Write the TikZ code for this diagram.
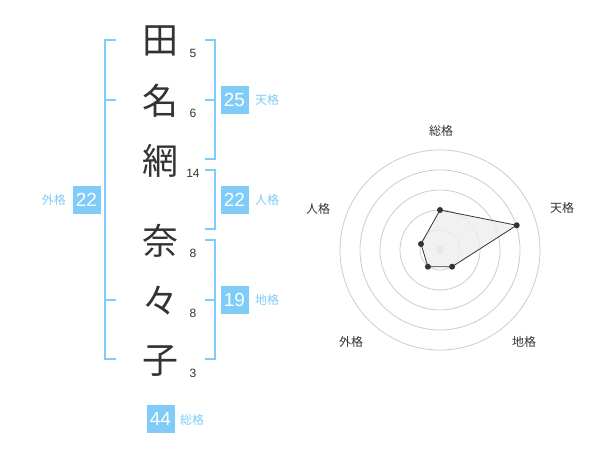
\documentclass[tikz,border=0pt]{standalone}
\usepackage{fontspec}
\setmainfont{Liberation Sans}
\newfontfamily\cjk{Noto Sans CJK JP}
\definecolor{kblue}{HTML}{80CCF8}
\definecolor{kdark}{HTML}{333333}
\definecolor{kgrid}{HTML}{CCCCCC}
\definecolor{kfill}{HTML}{EEEEEE}
\begin{document}
\begin{tikzpicture}[x=1pt,y=-1pt,
  kanji/.style={font=\cjk\fontsize{36}{36}\selectfont, text=kdark, inner sep=0pt},
  strokenum/.style={font=\fontsize{12}{12}\selectfont, text=kdark, inner sep=0pt},
  valbox/.style={fill=kblue, text=white, minimum width=28pt, minimum height=28pt, inner sep=0pt, font=\fontsize{19}{19}\selectfont},
  kaku/.style={text=kblue, font=\cjk\fontsize{12}{12}\selectfont, inner sep=0pt},
  brk/.style={draw=kblue, line width=2pt},
  rlab/.style={text=kdark, font=\cjk\fontsize{12}{12}\selectfont, inner sep=0pt},
  ring/.style={draw=kgrid, line width=0.8pt},
  dot/.style={circle, fill=kdark, inner sep=0pt, minimum size=6pt}
]
\useasboundingbox (0,0) rectangle (600,470);
% name characters
\node[kanji] (c1) at (160,41) {田};
\node[kanji] (c2) at (160,101) {名};
\node[kanji] (c3) at (160,161) {網};
\node[kanji] (c4) at (160,241) {奈};
\node[kanji] (c5) at (160,301) {々};
\node[kanji] (c6) at (160,361) {子};
% stroke counts
\node[strokenum] (s1) at (193,53) {5};
\node[strokenum] (s2) at (193,113) {6};
\node[strokenum] (s3) at (193,173) {14};
\node[strokenum] (s4) at (193,253) {8};
\node[strokenum] (s5) at (193,313) {8};
\node[strokenum] (s6) at (193,373) {3};
% brackets
\draw[brk] (116,40) -| (105,359) -- (116,359);
\draw[brk] (105,100) -- (116,100);
\draw[brk] (105,300) -- (116,300);
\draw[brk] (205,40) -| (215,159) -- (205,159);
\draw[brk] (205,100) -- (215,100);
\draw[brk] (205,170) -| (215,229) -- (205,229);
\draw[brk] (205,240) -| (215,359) -- (205,359);
\draw[brk] (205,300) -- (215,300);
% values
\node[valbox] (ten) at (234.5,100) {25};
\node[kaku, anchor=west] (tenl) at (255,100) {天格};
\node[valbox] (jin) at (234.5,200) {22};
\node[kaku, anchor=west] (jinl) at (255,200) {人格};
\node[valbox] (chi) at (234.5,300) {19};
\node[kaku, anchor=west] (chil) at (255,300) {地格};
\node[valbox] (gai) at (86.5,200) {22};
\node[kaku, anchor=east] (gail) at (66,200) {外格};
\node[valbox] (sou) at (160.5,419) {44};
\node[kaku, anchor=west] (soul) at (180,420) {総格};
% radar
\coordinate (rc) at (440,250);
\foreach \r in {20,40,60,80,100} \draw[ring] (rc) circle[radius=\r pt];
\node[circle, fill=kgrid, inner sep=0pt, minimum size=8pt] (cdot) at (rc) {};
\coordinate (p1) at (440,210);
\coordinate (p2) at (516.7,225.3);
\coordinate (p3) at (452.1,266.7);
\coordinate (p4) at (427.9,266.7);
\coordinate (p5) at (421,244);
\fill[kfill, opacity=0.8] (p1) -- (p2) -- (p3) -- (p4) -- (p5) -- cycle;
\draw[kdark, line width=0.8pt] (p1) -- (p2) -- (p3) -- (p4) -- (p5) -- cycle;
\foreach \p in {p1,p2,p3,p4,p5} \node[dot] at (\p) {};
\node[rlab] (r1) at (441,131) {総格};
\node[rlab] (r2) at (562,208) {天格};
\node[rlab] (r3) at (524,342) {地格};
\node[rlab] (r4) at (351,342) {外格};
\node[rlab] (r5) at (318,209) {人格};
\end{tikzpicture}
\end{document}
